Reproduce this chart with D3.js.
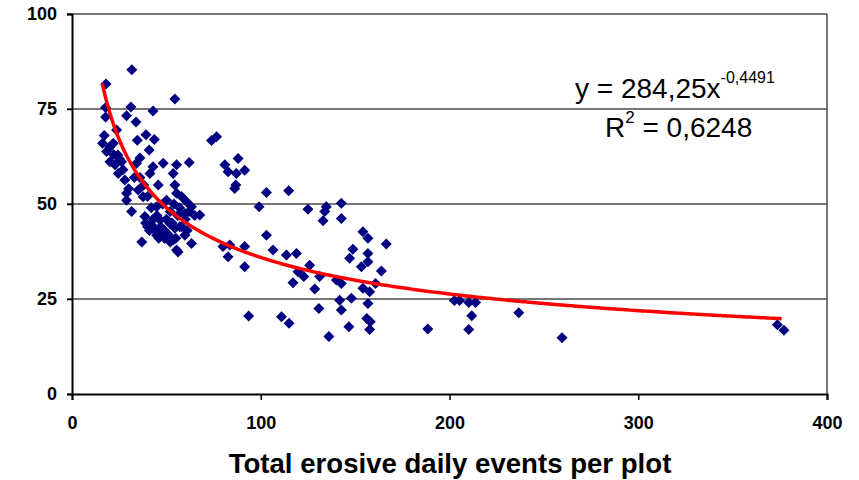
<!DOCTYPE html>
<html>
<head>
<meta charset="utf-8">
<script src="https://cdn.jsdelivr.net/npm/d3@7"></script>
<style>
  body { margin: 0; background: #fff; }
  svg { display: block; font-family: "Liberation Sans", Arial, sans-serif; }
</style>
</head>
<body>
<svg id="chart"></svg>
<script>
var events = [31.7,18.0,54.5,17.8,31.2,17.8,28.9,33.9,42.9,23.6,17.1,34.6,39.2,43.6,16.2,21.9,40.9,18.3,24.3,36,20.1,26.3,48.3,42.9,55.4,
  22.8,24.5,28,34.2,41.3,45.7,53.6,54.5,28.9,35.1,28.9,37.7,31.6,38.6,44.8,50.1,55.4,42.2,46.6,51.9,44.8,50.1,54.5,55.4,
  73.9,76.6,88,81,82.7,87.1,91.5,86.2,86.8,62.1,103,114.8,99.1,125,60.7,63.3,67.7,59.8,57.1,59.8,53.6,63.3,56.2,103,80,83.6,91.5,82.7,106.5,113.6,118.9,91.5,
  134.7,133.9,142.7,133,142.7,125.9,119.7,122.8,117.1,131.2,128.6,154.1,156.8,166.5,148.8,147.1,156.8,156.8,153.3,163.9,140.1,142.7,160.8,154.1,157.7,141.8,148,142.7,156.8,130.8,111,115,146.7,156.2,158,157.7,136.1,
  202.6,205.3,210.2,213.8,211.8,188.5,210.2,236.7,259.6,373.7,377.2,93.6,
  45,47,49,50,52,53,48,51,56,58,57,60,62,46,44,55,52,49,54,58,61,65,42,40,38,36,33,30,27,25,22,20,39,43,41,37,46,40];
var values = [85.3,81.6,77.6,75.4,75.5,72.9,73.2,71.6,74.5,69.5,68,66.8,68.2,67,66,66,64.2,63.8,62.9,62.1,61.1,61.1,60.7,59.8,60.3,
  60.3,58,56.3,60.7,58,55,58,55,52.8,53.7,51,51.9,48,46.7,49.3,51,52.8,44.5,45.8,44.9,41.8,41.4,43.6,37.9,
  66.7,67.7,62,60.3,58.5,58,58.9,54.1,55,60.9,53,53.5,49.3,48.6,50.6,49.3,47.1,47.5,44,41.8,40.5,39.6,37.4,41.8,38.8,39.2,38.8,36.1,37.9,36.6,37,33.5,
  49.3,48,50.2,45.6,46.2,33.9,32.2,30.9,29.3,30.9,27.6,42.7,41,39.5,38.1,35.7,37,34.8,33.5,32.4,30,29.1,29.1,27.8,26.9,24.7,25.2,22.1,23.8,22.5,20.3,18.6,17.7,19.9,19,17,15.1,
  24.6,24.6,24.1,24.1,20.6,17.1,17,21.4,14.8,18.2,16.8,20.5,
  47,44,43,46,48,45,50,42,47,44,49,46,48,41,43,41,40,41,50,52,43,47,49,52,55,57,57,54,59,62,63,65,45,46,43,40,42,44];

var xTicks = [0, 100, 200, 300, 400];
var yTicks = [0, 25, 50, 75, 100];

// power trendline y = a * x^b
var fitA = 284.25, fitB = -0.4491;
var fitFrom = 16, fitTo = 376;

var svg = d3.select("#chart").attr("width", 859).attr("height", 480);

var xScale = d3.scaleLinear().domain([0, 400]).range([72, 827]);
var yScale = d3.scaleLinear().domain([0, 100]).range([394, 14]);

// gridlines
svg.append("g").selectAll("line")
  .data([25, 50, 75, 100])
  .enter().append("line")
  .attr("x1", 67).attr("x2", 827)
  .attr("y1", function(d) { return yScale(d); })
  .attr("y2", function(d) { return yScale(d); })
  .attr("stroke", "#4a4a4a").attr("stroke-width", 1.5);

// right border
svg.append("line")
  .attr("x1", 827).attr("x2", 827).attr("y1", yScale(100)).attr("y2", yScale(0))
  .attr("stroke", "#4a4a4a").attr("stroke-width", 1.5);

var yAxis = d3.axisLeft(yScale).tickValues(yTicks).tickSize(5).tickPadding(10);
var gy = svg.append("g").attr("transform", "translate(72,0)").call(yAxis);

var xAxis = d3.axisBottom(xScale).tickValues(xTicks).tickSize(6).tickPadding(16);
var gx = svg.append("g").attr("transform", "translate(0,394)").call(xAxis);

[gx, gy].forEach(function(g) {
  g.select(".domain").attr("stroke", "#000").attr("stroke-width", 2);
  g.selectAll(".tick line").attr("stroke", "#000").attr("stroke-width", 1.5);
  g.selectAll(".tick text")
    .attr("fill", "#000")
    .style("font-size", "18px").style("font-weight", "bold")
    .style("font-family", "'Liberation Sans', Arial, sans-serif");
});

// points
var pts = events.map(function(d, i) { return [d, values[i]]; });
svg.append("g").selectAll("path")
  .data(pts)
  .enter().append("path")
  .attr("d", "M0,-5.5L5.5,0L0,5.5L-5.5,0Z")
  .attr("transform", function(d) { return "translate(" + xScale(d[0]) + "," + yScale(d[1]) + ")"; })
  .attr("fill", "#000080");

// trendline
var curve = d3.range(fitFrom, fitTo + 0.1, 1).map(function(x) { return [x, fitA * Math.pow(x, fitB)]; });
svg.append("path")
  .datum(curve)
  .attr("d", d3.line().x(function(d) { return xScale(d[0]); }).y(function(d) { return yScale(d[1]); }))
  .attr("fill", "none").attr("stroke", "#ff0000").attr("stroke-width", 3.5);

// equation
var eq = svg.append("text").attr("x", 575).attr("y", 98).style("font-size", "28px");
eq.append("tspan").text("y = 284,25x");
eq.append("tspan").attr("dy", -15).style("font-size", "16px").text("-0,4491");

var r2 = svg.append("text").attr("x", 605).attr("y", 137).style("font-size", "28px");
r2.append("tspan").text("R");
r2.append("tspan").attr("dy", -14).style("font-size", "17px").text("2");
r2.append("tspan").attr("dy", 14).text(" = 0,6248");

// axis title
svg.append("text")
  .attr("x", 450).attr("y", 473)
  .attr("text-anchor", "middle")
  .style("font-size", "27.6px").style("font-weight", "bold")
  .text("Total erosive daily events per plot");
</script>
</body>
</html>
